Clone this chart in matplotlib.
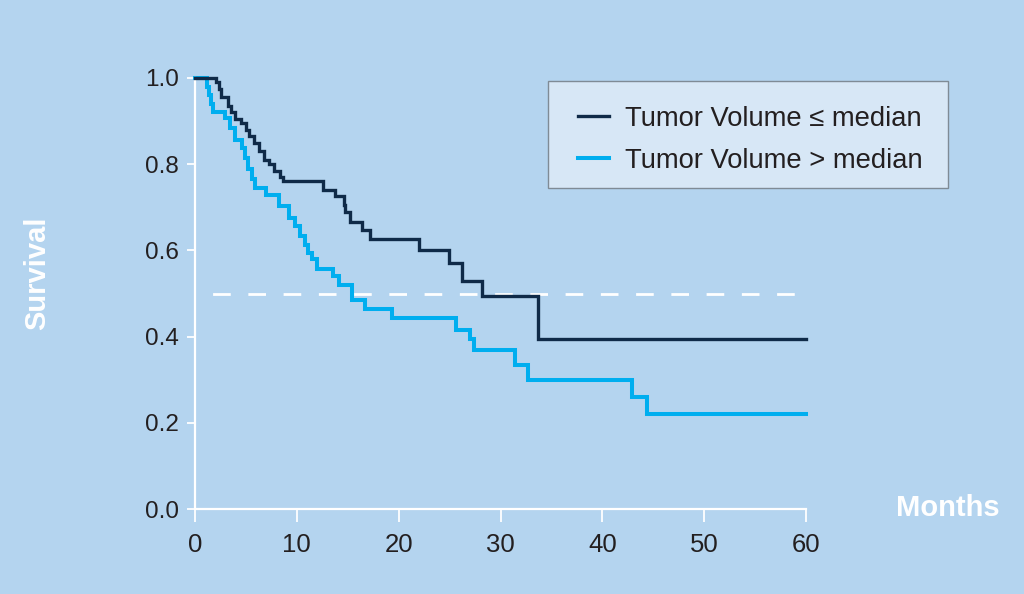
import matplotlib
matplotlib.use("Agg")
import matplotlib.pyplot as plt
from matplotlib.patches import Rectangle

plt.rcParams['font.family'] = ['Liberation Sans', 'DejaVu Sans']
plt.rcParams['lines.scale_dashes'] = False

# Data (Kaplan-Meier step curves)
low_times = [0, 2.1, 2.4, 2.6, 3.2, 3.5, 3.9, 4.5, 5.0, 5.3, 5.8, 6.3, 6.8, 7.3, 7.8,
             8.3, 8.6, 12.6, 13.7, 14.6, 14.7, 15.2, 16.4, 17.2, 22.0, 24.9, 26.2,
             28.2, 33.7, 60]
low_surv = [1.0, 0.99, 0.975, 0.957, 0.935, 0.92, 0.905, 0.895, 0.88, 0.865, 0.85, 0.83,
            0.81, 0.80, 0.785, 0.77, 0.76, 0.74, 0.727, 0.706, 0.688, 0.667, 0.648, 0.626,
            0.602, 0.571, 0.53, 0.494, 0.394, 0.394]

high_times = [0, 1.2, 1.4, 1.6, 1.8, 2.95, 3.4, 3.9, 4.6, 4.9, 5.2, 5.6, 5.9, 7.0, 8.2,
              9.2, 9.8, 10.3, 10.8, 11.1, 11.5, 12.0, 13.6, 14.1, 15.4, 16.7, 19.3,
              25.6, 27.0, 27.4, 31.4, 32.7, 42.9, 44.4, 60]
high_surv = [1.0, 0.98, 0.96, 0.94, 0.92, 0.907, 0.884, 0.857, 0.838, 0.815, 0.789, 0.765,
             0.745, 0.729, 0.703, 0.676, 0.656, 0.633, 0.613, 0.594, 0.579, 0.556, 0.54,
             0.519, 0.486, 0.463, 0.442, 0.416, 0.394, 0.370, 0.333, 0.30, 0.26, 0.22, 0.22]

median_level = 0.5
x_ticks = [0, 10, 20, 30, 40, 50, 60]
y_ticks = [0.0, 0.2, 0.4, 0.6, 0.8, 1.0]
labels = ["Tumor Volume \u2264 median", "Tumor Volume > median"]

BG = "#b4d4ef"
DARK = "#0f2a48"
LIGHT = "#00aeef"
TXT = "#231f20"

W, H = 1024, 594
fig = plt.figure(figsize=(W / 100, H / 100), dpi=100, facecolor=BG)
ax_left, ax_right = 195 / W, 806 / W
ax_bottom = (H - 509) / H
ymax = 1.02
top_px = 509 - ymax * 431
ax = fig.add_axes([ax_left, ax_bottom, ax_right - ax_left, (H - top_px) / H - ax_bottom])
ax.set_facecolor(BG)
ax.set_xlim(0, 60)
ax.set_ylim(0, ymax)

ax.axhline(median_level, color="white", lw=2.0, linestyle=(12.7, (12.7, 12.68)), zorder=1)

l1, = ax.step(low_times, low_surv, where="post", color=DARK, lw=2.4, zorder=3,
              clip_on=False, solid_joinstyle="miter")
l2, = ax.step(high_times, high_surv, where="post", color=LIGHT, lw=2.9, zorder=2,
              clip_on=False, solid_joinstyle="miter")

for s in ["top", "right"]:
    ax.spines[s].set_visible(False)
for s in ["left", "bottom"]:
    ax.spines[s].set_color("white")
    ax.spines[s].set_linewidth(1.6)
ax.spines["left"].set_bounds(0, 1.0)
ax.spines["bottom"].set_bounds(0, 60)

ax.set_xticks(x_ticks)
ax.set_xticklabels([str(v) for v in x_ticks])
ax.set_yticks(y_ticks)
ax.set_yticklabels([f"{v:.1f}" for v in y_ticks])
ax.tick_params(axis="x", colors="white", length=9.5, width=1.3, direction="out",
               labelsize=18.5, labelcolor=TXT, pad=8)
ax.tick_params(axis="y", colors="white", length=5.5, width=1.3, direction="out",
               labelsize=17.5, labelcolor=TXT, pad=6)

fig.text(37 / W, 1 - 273 / H, "Survival", rotation=90, color="white", fontsize=21,
         fontweight="bold", ha="center", va="center")
fig.text(948 / W, 1 - 508 / H, "Months", color="white", fontsize=21,
         fontweight="bold", ha="center", va="center")

# legend box
box = Rectangle((548 / W, 1 - 188 / H), 400 / W, 107 / H, transform=fig.transFigure,
                facecolor="#d7e7f6", edgecolor="#7f8b96", linewidth=1.0, zorder=5)
fig.patches.append(box)
leg = fig.legend([l1, l2], labels, loc="center left",
                 bbox_to_anchor=(578 / W, 1 - 140 / H), bbox_transform=fig.transFigure,
                 borderaxespad=0, borderpad=0, fontsize=19.7, frameon=False,
                 labelspacing=0.58, handlelength=1.15, handletextpad=0.55)
leg.set_zorder(6)
for t in leg.get_texts():
    t.set_color(TXT)

fig.savefig("out.png", dpi=100, facecolor=BG)
